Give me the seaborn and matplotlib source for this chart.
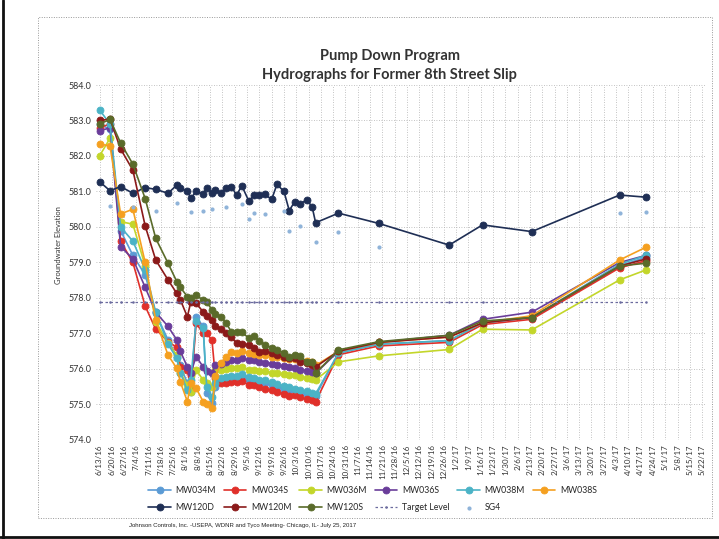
import numpy as np
import pandas as pd
import matplotlib
matplotlib.use("Agg")
import matplotlib.pyplot as plt
import seaborn as sns

nan = np.nan

# sampling dates (shared by all wells)
dates = pd.to_datetime([
    "2016-06-13", "2016-06-19", "2016-06-25", "2016-07-02", "2016-07-09", "2016-07-15",
    "2016-07-22", "2016-07-27", "2016-07-29", "2016-08-02", "2016-08-04", "2016-08-07",
    "2016-08-11", "2016-08-13", "2016-08-16", "2016-08-18", "2016-08-21", "2016-08-24",
    "2016-08-27", "2016-08-30", "2016-09-02", "2016-09-06", "2016-09-09", "2016-09-12",
    "2016-09-15", "2016-09-19", "2016-09-22", "2016-09-26", "2016-09-29", "2016-10-02",
    "2016-10-05", "2016-10-09", "2016-10-12", "2016-10-14", "2016-10-27", "2016-11-19",
    "2016-12-29", "2017-01-17", "2017-02-14", "2017-04-05", "2017-04-20",
])

mw034m = [582.9, 582.75, 579.9, 579.2, 578.65, 577.57, 576.82, 576.35, 576.1, 575.6,
          575.36, 577.47, 577.2, 575.32, 575.03, 575.5, 575.64, 575.7, 575.72, 575.74,
          575.8, 575.7, 575.69, 575.62, 575.6, 575.55, 575.5, 575.45, 575.41, 575.4,
          575.33, 575.3, 575.28, 575.24, 576.45, 576.7, 576.8, 577.3, 577.45, 578.9, 579.15]
mw034s = [582.8, 582.9, 579.6, 579.0, 577.77, 577.12, 576.77, 576.61, 576.06, 575.97,
          575.41, 577.29, 577.0, 577.0, 576.82, 575.74, 575.6, 575.6, 575.62, 575.62,
          575.65, 575.55, 575.55, 575.5, 575.45, 575.4, 575.35, 575.3, 575.25, 575.28,
          575.2, 575.15, 575.12, 575.08, 576.4, 576.65, 576.75, 577.25, 577.4, 578.85, 579.05]
mw036m = [582.0, 582.5, 580.15, 580.08, 578.9, 577.33, 576.72, 576.39, 575.9, 575.55,
          575.36, 575.97, 575.69, 575.6, 575.5, 575.97, 575.97, 576.0, 576.02, 576.02,
          576.05, 575.98, 575.97, 575.95, 575.93, 575.9, 575.88, 575.85, 575.83, 575.82,
          575.78, 575.75, 575.72, 575.69, 576.2, 576.37, 576.55, 577.12, 577.1, 578.51, 578.79]
mw036s = [582.7, 582.8, 579.45, 579.1, 578.3, 577.6, 577.2, 576.82, 576.5, 576.06,
          575.9, 576.35, 576.06, 575.95, 575.88, 576.11, 576.15, 576.2, 576.25, 576.25,
          576.3, 576.25, 576.25, 576.2, 576.18, 576.15, 576.11, 576.08, 576.05, 576.03,
          575.97, 575.95, 575.92, 575.88, 576.5, 576.75, 576.95, 577.4, 577.6, 579.0, 579.2]
mw038m = [583.3, 582.9, 580.0, 579.6, 578.8, 577.6, 576.7, 576.3, 575.9, 575.4,
          575.7, 577.35, 577.15, 575.5, 575.2, 575.6, 575.75, 575.78, 575.8, 575.8,
          575.85, 575.78, 575.75, 575.7, 575.68, 575.62, 575.58, 575.52, 575.48, 575.45,
          575.4, 575.37, 575.33, 575.3, 576.45, 576.7, 576.8, 577.3, 577.45, 578.95, 579.2]
mw038s = [582.34, 582.28, 580.37, 580.5, 579.0, 577.38, 576.39, 576.02, 575.64, 575.08,
          575.6, 575.46, 575.08, 575.0, 574.89, 575.8, 576.16, 576.35, 576.49, 576.45,
          576.5, 576.45, 576.42, 576.4, 576.38, 576.35, 576.33, 576.3, 576.28, 576.27,
          576.25, 576.22, 576.2, 576.1, 576.5, 576.75, 576.9, 577.3, 577.5, 579.07, 579.43]
mw120d = [581.28, 581.02, 581.14, 580.95, 581.11, 581.06, 580.95, 581.18, 581.09, 581.01,
          580.81, 581.0, 580.93, 581.11, 580.95, 581.04, 580.97, 581.09, 581.14, 580.9,
          581.16, 580.73, 580.9, 580.9, 580.92, 580.78, 581.2, 581.0, 580.46, 580.71,
          580.65, 580.76, 580.57, 580.12, 580.39, 580.1, 579.49, 580.06, 579.87, 580.9, 580.84]
mw120m = [583.0, 583.04, 582.2, 581.6, 580.03, 579.07, 578.51, 578.13, 577.95, 577.47,
          577.9, 577.85, 577.61, 577.5, 577.38, 577.2, 577.12, 577.0, 576.9, 576.72,
          576.7, 576.68, 576.6, 576.49, 576.5, 576.44, 576.4, 576.35, 576.3, 576.3,
          576.2, 576.18, 576.12, 576.06, 576.5, 576.75, 576.9, 577.3, 577.45, 578.9, 579.1]
mw120s = [582.9, 583.03, 582.37, 581.77, 580.8, 579.68, 578.98, 578.46, 578.3, 578.04,
          578.0, 578.08, 577.94, 577.9, 577.66, 577.55, 577.47, 577.3, 577.05, 577.05,
          577.05, 576.86, 576.93, 576.8, 576.68, 576.6, 576.54, 576.45, 576.35, 576.4,
          576.37, 576.2, 576.2, 575.88, 576.54, 576.77, 576.95, 577.35, 577.45, 578.9, 578.98]
sg4 = [nan, 580.6, nan, 580.55, nan, 580.46, nan, 580.67, nan, nan,
       580.43, nan, 580.45, nan, 580.5, nan, nan, 580.57, nan, nan,
       580.65, 580.22, 580.39, nan, 580.37, nan, nan, 580.46, 579.9, nan,
       580.04, nan, nan, 579.59, 579.87, 579.45, nan, nan, nan, 580.4, 580.43]
target_level = 577.9

wells = [
    ("MW034M", mw034m, "#5b9bd5"),
    ("MW034S", mw034s, "#e0302a"),
    ("MW036M", mw036m, "#c3d62a"),
    ("MW036S", mw036s, "#6a3d9a"),
    ("MW038M", mw038m, "#4bb3c6"),
    ("MW038S", mw038s, "#f5a020"),
    ("MW120D", mw120d, "#1f2f55"),
    ("MW120M", mw120m, "#8b1a1a"),
    ("MW120S", mw120s, "#5a6b2a"),
]

sns.set_theme(style="white")
plt.rcParams["font.family"] = ["Lato", "DejaVu Sans"]

fig = plt.figure(figsize=(7.19, 5.39), dpi=100)
ax = fig.add_axes([0.1335, 0.1837, 0.848, 0.6586])

for name, vals, col in wells:
    sns.lineplot(x=dates, y=vals, ax=ax, color=col, linewidth=1.2, marker="o",
                 markersize=5, markeredgecolor=col, markeredgewidth=0.6,
                 sort=False, label=name)

sns.lineplot(x=dates, y=[target_level] * len(dates), ax=ax, color="#6b6b9e",
             linewidth=0.9, linestyle=(0, (2, 2)), marker="o", markersize=1.8,
             markeredgewidth=0, sort=False, label="Target Level")

sg = pd.DataFrame({"date": dates, "val": sg4}).dropna()
ax.scatter(sg["date"], sg["val"], s=4, color="#8fb3d9", label="SG4", zorder=2)

ticks = pd.date_range("2016-06-13", "2017-05-22", freq="7D")
ax.set_xticks(ticks)
ax.set_xticklabels([f"{d.month}/{d.day}/{d:%y}" for d in ticks], rotation=90,
                   fontsize=5.8, color="#333333")
ax.set_xlim(pd.Timestamp("2016-06-11"), pd.Timestamp("2017-05-24"))
ax.set_ylim(574, 584)
ax.set_yticks(np.arange(574, 584.1, 1))
ax.set_yticklabels([f"{v:.1f}" for v in np.arange(574, 584.1, 1)], fontsize=6.5,
                   color="#333333")
ax.tick_params(axis="both", length=0, pad=3)
ax.set_xlabel("")
ax.set_ylabel("")
ax.grid(True, color="#b0b0b0", linewidth=0.6, linestyle=(0, (1, 2)))
for s in ax.spines.values():
    s.set_visible(False)
ax.get_legend().remove()

fig.text(0.542, 0.896, "Pump Down Program", ha="center", va="center",
         fontsize=10.5, fontweight="bold", color="#333333")
fig.text(0.542, 0.860, "Hydrographs for Former 8th Street Slip", ha="center",
         va="center", fontsize=10.5, fontweight="bold", color="#333333")
fig.text(0.081, 0.545, "Groundwater Elevation", rotation=90, ha="center",
         va="center", fontsize=5.5, color="#333333")

# legend: 6 per row, filled row by row
h, l = ax.get_legend_handles_labels()
r1, r2 = list(range(6)), list(range(6, 11))
order = []
for i in range(5):
    order += [r1[i], r2[i]]
order.append(r1[5])
fig.legend([h[i] for i in order], [l[i] for i in order], ncol=6, loc="center",
           bbox_to_anchor=(0.518, 0.074), frameon=False, fontsize=6.3,
           handlelength=2.6, columnspacing=0.9, labelspacing=0.9, handletextpad=0.5)

fig.text(0.18, 0.022, "Johnson Controls, Inc. -USEPA, WDNR and Tyco Meeting- Chicago, IL- July 25, 2017",
         fontsize=4.3, color="#222222", family=["Liberation Sans", "DejaVu Sans"])

# chart area border and scan frame
fig.add_artist(plt.Rectangle((38 / 719, 1 - 518 / 539), (712 - 38) / 719, (518 - 17) / 539,
                             transform=fig.transFigure, fill=False, edgecolor="#999999",
                             linewidth=0.7, linestyle=(0, (1, 1.5))))
fig.add_artist(plt.Line2D([0.004, 0.004], [0, 1], transform=fig.transFigure,
                          color="#111111", linewidth=2))
fig.add_artist(plt.Line2D([0, 1], [0.004, 0.004], transform=fig.transFigure,
                          color="#111111", linewidth=2))

fig.savefig("out.png", dpi=100)
